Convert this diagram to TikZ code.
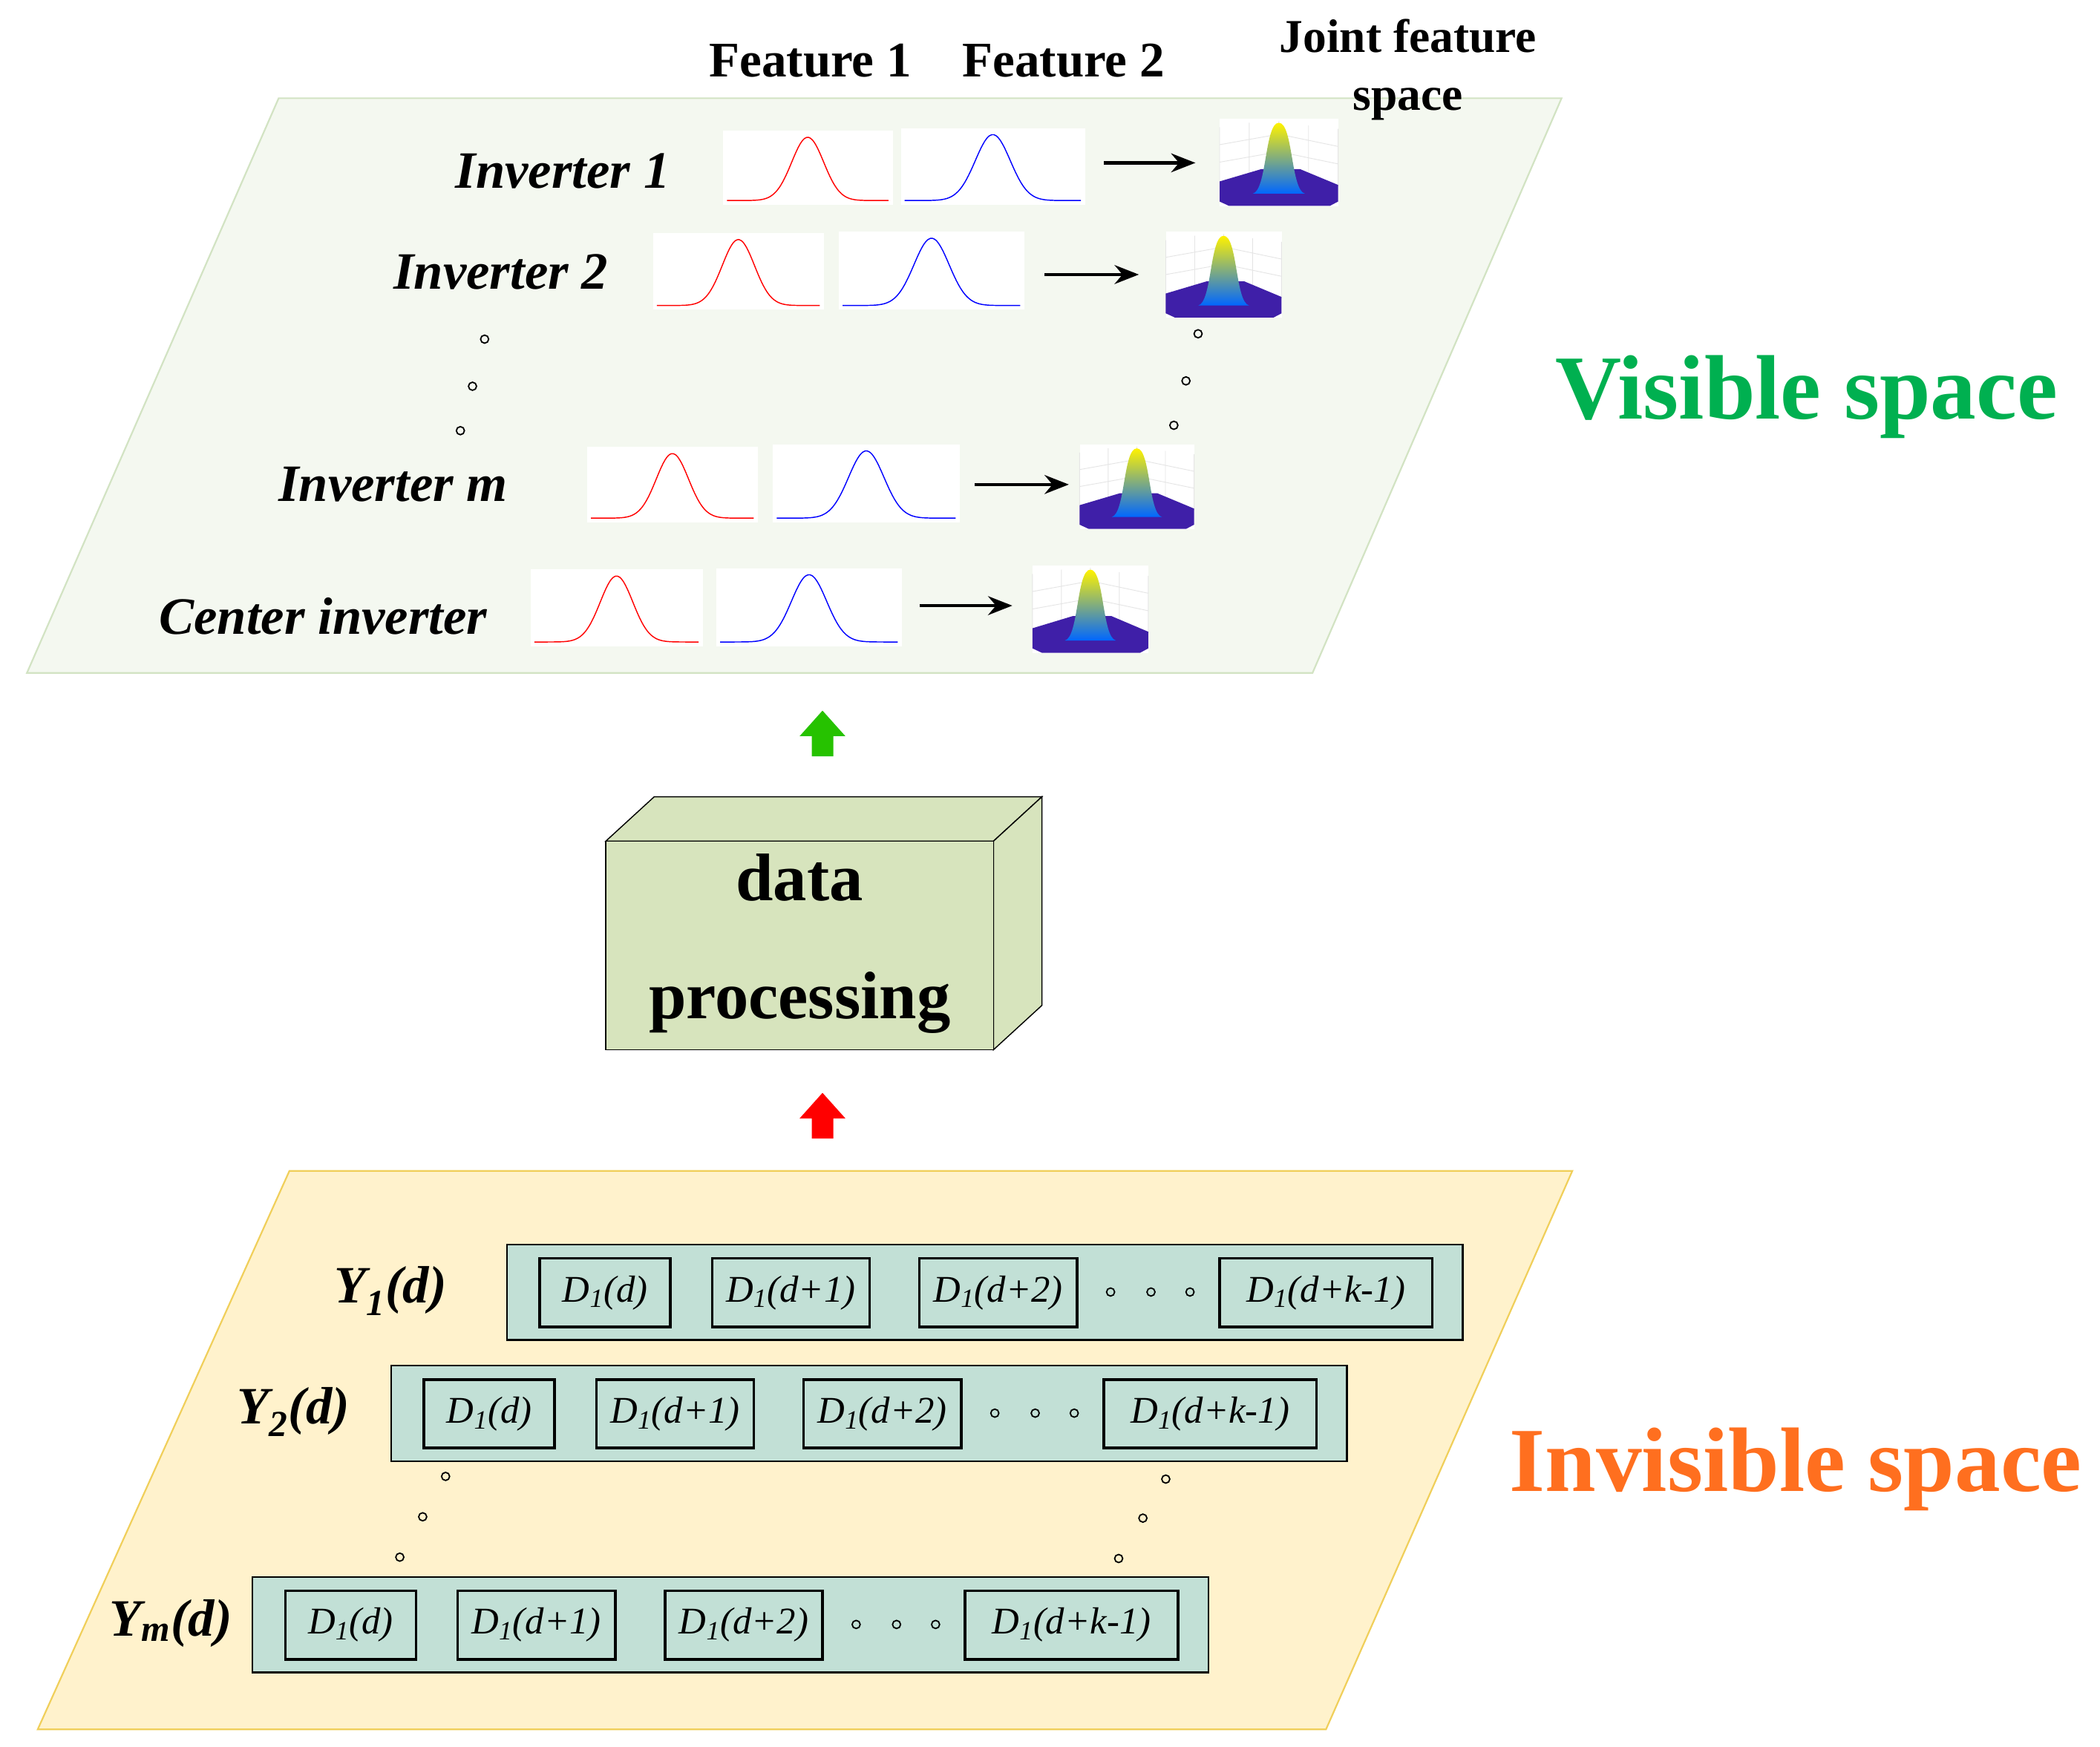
\documentclass[tikz,border=0pt]{standalone}
\usepackage{fontspec}
\setmainfont{Liberation Serif}
\usetikzlibrary{arrows.meta}
\definecolor{vis}{HTML}{F4F8F0}
\definecolor{visb}{HTML}{D2E3C3}
\definecolor{invis}{HTML}{FFF2CC}
\definecolor{invisb}{HTML}{F0CF5A}
\definecolor{cube}{HTML}{D7E4BD}
\definecolor{rowc}{HTML}{C2E0D6}
\definecolor{vgreen}{HTML}{00B050}
\definecolor{iorange}{HTML}{FF6F1F}
\definecolor{purp}{HTML}{3F1FA8}
\tikzset{
 lbl/.style={font=\fontsize{39}{42}\selectfont\bfseries\itshape},
 hdr/.style={font=\fontsize{37}{40}\selectfont\bfseries,align=center},
 dbox/.style={draw=black,line width=2pt,fill=rowc,inner sep=0pt,font=\fontsize{28}{30}\selectfont\itshape},
 rowbox/.style={draw=black,line width=1.2pt,fill=rowc,inner sep=0pt},
 arr/.style={-{Stealth[length=18pt,width=14pt]},line width=2.4pt},
 dot/.style={circle,draw=black,line width=1pt,inner sep=0pt,minimum size=6pt},
}
\newcommand{\gbox}[6]{%
 \node[fill=white,inner sep=0pt,minimum width={#4-#2},minimum height={#5-#3},anchor=north west] (#1) at (#2,#3) {};
 \draw[#6,line width=0.8pt] plot[domain=0:1,samples=80,smooth] ({#2+3+\x*(#4-#2-6)},{#5-3-(#5-#3-8)*exp(-((\x-0.5)/0.14)^2)});
}
\newcommand{\surfbox}[5]{%
 \node[fill=white,inner sep=0pt,minimum width={#4-#2},minimum height={#5-#3},anchor=north west] (#1) at (#2,#3) {};
 \begin{scope}[shift={(#2,#3)},xscale={(#4-#2)/100},yscale={(#5-#3)/100}]
  \draw[black!10,line width=0.5pt] (0,10)--(0,72) (25,5)--(25,65) (50,3)--(50,60) (75,8)--(75,65) (100,12)--(100,78)
    (0,30)--(50,18)--(100,32) (0,50)--(50,38)--(100,52);
  \fill[purp] (0,72)--(35,58)--(68,58)--(100,76)--(100,95)--(93,100)--(8,100)--(0,95)--cycle;
  \shade[top color=yellow!90!orange,middle color=green!65!cyan,bottom color=blue!60!cyan]
   (28,86) .. controls (40,82) and (38,5) .. (50,5) .. controls (62,5) and (60,82) .. (72,86) -- cycle;
 \end{scope}
}
\begin{document}
\begin{tikzpicture}[x=1pt,y=-1pt]
\useasboundingbox (0,0) rectangle (1560,1298);
\fill[white] (0,0) rectangle (1560,1298);
\draw[fill=vis,draw=visb,line width=1.2pt] (20,500)--(975,500)--(1160,73)--(207,73)--cycle;
\draw[fill=invis,draw=invisb,line width=1.2pt] (28,1285)--(985,1285)--(1168,870)--(215,870)--cycle;
\node[font=\fontsize{68}{72}\selectfont\bfseries,text=vgreen] (vs) at (1342,295) {Visible space};
\node[font=\fontsize{68}{72}\selectfont\bfseries,text=iorange] (is) at (1334,1092) {Invisible space};
\node[hdr] (f1) at (602,45) {Feature 1};
\node[hdr] (f2) at (790,45) {Feature 2};
\node[hdr,font=\fontsize{35}{43}\selectfont\bfseries] (jf) at (1046,52) {Joint feature\\space};
\node[lbl] (i1) at (418,127) {Inverter 1};
\gbox{r1}{537}{97}{663}{152}{red}
\gbox{b1}{669}{95}{806}{152}{blue}
\surfbox{s1}{906}{88}{994}{153}
\coordinate (a1) at (820,121); \coordinate (e1) at (888,121);
\draw[arr] (a1)--(e1);
\node[lbl] (i2) at (372,202) {Inverter 2};
\gbox{r2}{485}{173}{612}{230}{red}
\gbox{b2}{623}{172}{761}{230}{blue}
\surfbox{s2}{866}{172}{952}{236}
\coordinate (a2) at (776,204); \coordinate (e2) at (846,204);
\draw[arr] (a2)--(e2);
\node[lbl] (im) at (292,360) {Inverter m};
\gbox{rm}{436}{332}{563}{388}{red}
\gbox{bm}{574}{330}{713}{388}{blue}
\surfbox{sm}{802}{330}{887}{393}
\coordinate (am) at (724,360); \coordinate (em) at (794,360);
\draw[arr] (am)--(em);
\node[lbl] (ic) at (240,458) {Center inverter};
\gbox{rc}{394}{423}{522}{480}{red}
\gbox{bc}{532}{422}{670}{480}{blue}
\surfbox{sc}{767}{420}{853}{485}
\coordinate (ac) at (683,450); \coordinate (ec) at (752,450);
\draw[arr] (ac)--(ec);
\node[dot] (d1) at (360,252) {}; \node[dot] (d2) at (351,287) {}; \node[dot] (d3) at (342,320) {};
\node[dot] (d4) at (890,248) {}; \node[dot] (d5) at (881,283) {}; \node[dot] (d6) at (872,316) {};
\fill[green!70!black!80!lime] (603,562)--(603,547)--(594,547)--(611,528)--(628,547)--(619,547)--(619,562)--cycle;
\fill[red] (603,846)--(603,831)--(594,831)--(611,812)--(628,831)--(619,831)--(619,846)--cycle;
\draw[fill=cube,line width=0.8pt] (450,625)--(486,592)--(774,592)--(738,625)--cycle;
\draw[fill=cube,line width=0.8pt] (738,625)--(774,592)--(774,747)--(738,780)--cycle;
\draw[fill=cube,line width=0.8pt] (450,625) rectangle (738,780);
\node[font=\fontsize{50}{54}\selectfont\bfseries] (dp1) at (594,652) {data};
\node[font=\fontsize{50}{54}\selectfont\bfseries] (dp2) at (594,745) {processing};
\foreach \nm/\dx/\dy/\lx/\lab in {1/0/0/290/{\textit{Y}\textsubscript{\textit{1}}\textit{(d)}},2/-86/90/304/{\textit{Y}\textsubscript{\textit{2}}\textit{(d)}},m/-189/247/316/{\textit{Y}\textsubscript{\textit{m}}\textit{(d)}}}{
 \begin{scope}[shift={(\dx,\dy)}]
 \node[rowbox,minimum width=710pt,minimum height=71pt,anchor=north west] (row\nm) at (376,924) {};
 \node[lbl] (y\nm) at (\lx,959) {\lab};
 \node[dbox,minimum width=97pt,minimum height=51pt,anchor=north west] (p\nm a) at (400,934) {D\textsubscript{1}(d)};
 \node[dbox,minimum width=117pt,minimum height=51pt,anchor=north west] (p\nm b) at (528,934) {D\textsubscript{1}(d+1)};
 \node[dbox,minimum width=117pt,minimum height=51pt,anchor=north west] (p\nm c) at (682,934) {D\textsubscript{1}(d+2)};
 \node[dbox,minimum width=158pt,minimum height=51pt,anchor=north west] (p\nm d) at (905,934) {D\textsubscript{1}(d+k-1)};
 \node[dot] (q\nm a) at (825,960) {}; \node[dot] (q\nm b) at (855,960) {}; \node[dot] (q\nm c) at (884,960) {};
 \end{scope}
}
\node[dot] (v1) at (331,1097) {}; \node[dot] (v2) at (314,1127) {}; \node[dot] (v3) at (297,1157) {};
\node[dot] (v4) at (866,1099) {}; \node[dot] (v5) at (849,1128) {}; \node[dot] (v6) at (831,1158) {};
\end{tikzpicture}
\end{document}
